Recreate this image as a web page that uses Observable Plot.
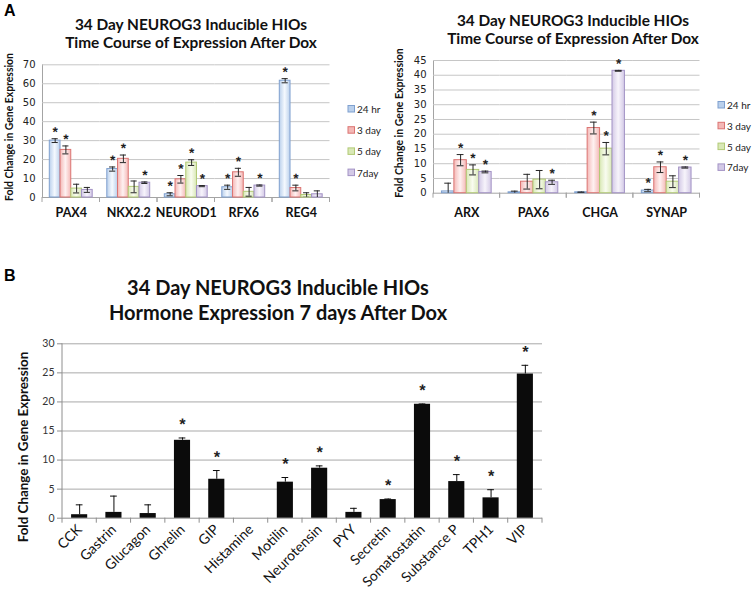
<!DOCTYPE html>
<html>
<head>
<meta charset="utf-8">
<script src="https://cdn.jsdelivr.net/npm/d3@7"></script>
<script src="https://cdn.jsdelivr.net/npm/@observablehq/plot@0.6"></script>
<style>
  html, body { margin: 0; padding: 0; background: #fff; }
  #page { position: relative; width: 752px; height: 593px; overflow: hidden; background: #fff; }
  .panel { position: absolute; }
  #overlay { position: absolute; left: 0; top: 0; pointer-events: none; }
  .stars text { text-rendering: geometricPrecision; }
</style>
</head>
<body>
<div id="page">
  <svg id="defs" width="0" height="0" style="position:absolute;left:0;top:0"></svg>
  <div id="chartA1" class="panel" style="left:0px;top:0px;width:334px"></div>
  <div id="chartA2" class="panel" style="left:380px;top:0px;width:330px"></div>
  <div id="chartB" class="panel" style="left:0px;top:330px;width:560px"></div>
  <svg id="overlay" width="752" height="593"></svg>
</div>
<script>
// ---------------- data ----------------
const timeSeries = ["24 hr", "3 day", "5 day", "7day"];

// Panel A (left)
const leftGenes = ["PAX4", "NKX2.2", "NEUROD1", "RFX6", "REG4"];
const left24hr = [30.0, 15.0, 1.7, 5.4, 61.6];
const left3day = [25.1, 20.4, 9.6, 13.3, 5.0];
const left5day = [4.7, 5.6, 18.4, 3.0, 1.3];
const left7day = [4.0, 7.8, 6.0, 6.3, 1.7];
const leftErr24hr = [1.0, 1.1, 0.8, 1.1, 1.1];
const leftErr3day = [2.1, 2.0, 2.0, 2.1, 1.5];
const leftErr5day = [2.3, 3.1, 1.5, 2.3, 1.2];
const leftErr7day = [1.3, 0.4, 0.3, 0.3, 1.8];
const leftStar24hr = [1, 1, 1, 1, 1];
const leftStar3day = [1, 1, 1, 1, 1];
const leftStar5day = [0, 0, 1, 0, 0];
const leftStar7day = [0, 1, 1, 1, 0];

// Panel A (right)
const rightGenes = ["ARX", "PAX6", "CHGA", "SYNAP"];
const right24hr = [0.6, 0.3, 0.3, 0.9];
const right3day = [11.2, 3.9, 22.1, 8.8];
const right5day = [7.9, 4.6, 15.1, 3.9];
const right7day = [7.2, 3.7, 41.5, 8.7];
const rightErr24hr = [2.8, 0.4, 0.1, 0.4];
const rightErr3day = [1.9, 2.5, 2.0, 1.8];
const rightErr5day = [1.7, 3.1, 2.1, 2.0];
const rightErr7day = [0.3, 0.7, 0.15, 0.2];
const rightStar24hr = [0, 0, 0, 1];
const rightStar3day = [1, 0, 1, 1];
const rightStar5day = [1, 0, 1, 0];
const rightStar7day = [1, 1, 1, 1];

// Panel B
const hormones = ["CCK", "Gastrin", "Glucagon", "Ghrelin", "GIP", "Histamine", "Motilin", "Neurotensin", "PYY", "Secretin", "Somatostatin", "Substance P", "TPH1", "VIP"];
const hormoneValues = [0.6, 1.0, 0.8, 13.4, 6.7, 0, 6.2, 8.6, 1.0, 3.2, 19.6, 6.3, 3.5, 24.8];
const hormoneErrors = [1.7, 2.8, 1.5, 0.4, 1.5, 0, 0.8, 0.4, 0.7, 0.1, 0.05, 1.2, 1.4, 1.5];
const hormoneStars = [0, 0, 0, 1, 1, 0, 1, 1, 0, 1, 1, 1, 1, 1];

// Ticks
const ticksLeft = [0, 10, 20, 30, 40, 50, 60, 70];
const ticksRight = [0, 5, 10, 15, 20, 25, 30, 35, 40, 45];
const ticksB = [0, 5, 10, 15, 20, 25, 30];

// Text
const titleA1 = "34 Day NEUROG3 Inducible HIOs";
const titleA2 = "Time Course of Expression After Dox";
const titleB1 = "34 Day NEUROG3 Inducible HIOs";
const titleB2 = "Hormone Expression 7 days After Dox";
const yTitle = "Fold Change in Gene Expression";

// Styles
const seriesStroke = ["#7fa0cf", "#db7472", "#b2ca76", "#a393c5"];
const seriesEdge = ["#bad0ec", "#f4b8b6", "#d9e8b6", "#d3c9e6"];
const seriesCenter = ["#f5f9fe", "#fef1f1", "#f9fcf0", "#f7f4fb"];

// ---------------- build rows ----------------
function buildRows(genes, vals, errs, stars) {
  const rows = [];
  genes.forEach((g, i) => timeSeries.forEach((s, k) => rows.push({
    gene: g, series: s, k, value: vals[k][i], err: errs[k][i], star: stars[k][i] === 1
  })));
  return rows;
}
const rowsLeft = buildRows(leftGenes,
  [left24hr, left3day, left5day, left7day],
  [leftErr24hr, leftErr3day, leftErr5day, leftErr7day],
  [leftStar24hr, leftStar3day, leftStar5day, leftStar7day]);
const rowsRight = buildRows(rightGenes,
  [right24hr, right3day, right5day, right7day],
  [rightErr24hr, rightErr3day, rightErr5day, rightErr7day],
  [rightStar24hr, rightStar3day, rightStar5day, rightStar7day]);
const rowsB = hormones.map((name, i) => ({name, value: hormoneValues[i], err: hormoneErrors[i], star: hormoneStars[i] === 1}));

// ---------------- gradients ----------------
const defs = d3.select("#defs").append("defs");
seriesEdge.forEach((c, k) => {
  const g = defs.append("linearGradient").attr("id", `grad${k}`)
    .attr("x1", "0").attr("x2", "1").attr("y1", "0").attr("y2", "0");
  g.append("stop").attr("offset", "0").attr("stop-color", c);
  g.append("stop").attr("offset", "0.5").attr("stop-color", seriesCenter[k]);
  g.append("stop").attr("offset", "1").attr("stop-color", c);
});

// ---------------- helper marks ----------------
const facetEdgeTicks = (len, color) => (index, scales, values, dims) => {
  const y0 = dims.height - dims.marginBottom;
  const g = d3.create("svg:g").attr("stroke", color).attr("stroke-width", 1);
  [dims.marginLeft, dims.width - dims.marginRight].forEach(x =>
    g.append("line").attr("x1", x).attr("x2", x).attr("y1", y0).attr("y2", y0 + len));
  return g.node();
};
const bandEdgeTicks = (len, color) => (index, scales, values, dims) => {
  const x = scales.x;
  const y0 = dims.height - dims.marginBottom;
  const gap = x.step() - x.bandwidth();
  const edges = x.domain().map(v => x(v) - gap / 2);
  edges.push(edges[edges.length - 1] + x.step());
  const g = d3.create("svg:g").attr("stroke", color).attr("stroke-width", 1);
  edges.forEach(e => g.append("line").attr("x1", e).attr("x2", e).attr("y1", y0).attr("y2", y0 + len));
  return g.node();
};
const leftAxisLine = (color) => (index, scales, values, dims) => {
  const g = d3.create("svg:line").attr("stroke", color)
    .attr("x1", dims.marginLeft).attr("x2", dims.marginLeft)
    .attr("y1", dims.marginTop).attr("y2", dims.height - dims.marginBottom);
  return g.node();
};

// asterisks: slightly rotated so they are rendered with grayscale antialiasing
const starStyle = {fontFamily: "Liberation Sans", fontWeight: "bold", fill: "#1e1e1e", rotate: 0.4, className: "stars"};

// ---------------- panel A ----------------
function drawA(el, genes, rows, cfg) {
  const fx = "gene", x = "series";
  const errColor = "#272727";
  const core = [
    Plot.ruleY(cfg.ticks.filter(t => t > 0), {stroke: "#c6c6c6"}),
    facetEdgeTicks(5, "#a4a4a4"),
    Plot.ruleY([0], {stroke: "#a4a4a4"}),
    Plot.barY(rows, {fx, x, y: "value", fill: d => `url(#grad${d.k})`, stroke: d => seriesStroke[d.k], strokeWidth: 1}),
    Plot.ruleX(rows, {fx, x, y1: d => d.value - d.err, y2: d => d.value + d.err, stroke: errColor, clip: true}),
    Plot.tickY(rows, {fx, x, y: d => d.value + d.err, stroke: errColor, insetLeft: cfg.capInset, insetRight: cfg.capInset}),
    Plot.tickY(rows, {fx, x, y: d => d.value - d.err, stroke: errColor, insetLeft: cfg.capInset, insetRight: cfg.capInset, clip: true}),
    Plot.text(rows.filter(d => d.star), {fx, x, y: d => d.value + d.err, text: () => "*", dy: -6.5, fontSize: 13.5, ...starStyle}),
    Plot.axisY(cfg.ticks, {tickSize: 0, tickPadding: 7, fontSize: 10, fontFamily: "DejaVu Sans", fill: "#222", label: null}),
    Plot.axisFx({anchor: "bottom", tickSize: 0, tickPadding: cfg.labelPad, fontSize: 12.5, fontWeight: "bold", fontFamily: "Lato", fill: "#111", label: null})
  ];
  const options = (extra) => ({
    width: cfg.width, height: cfg.height,
    marginLeft: cfg.ml, marginRight: cfg.mr, marginTop: cfg.mt, marginBottom: cfg.mb,
    fx: {domain: genes, padding: 0, round: false},
    x: {domain: timeSeries, paddingInner: 0, paddingOuter: 0.68, round: false, axis: null},
    y: {domain: [0, cfg.ticks[cfg.ticks.length - 1]]},
    color: {type: "identity"},
    style: {background: "transparent", overflow: "visible", fontFamily: "Lato"},
    marks: extra.concat(core)
  });
  let chart;
  try {
    chart = Plot.plot(options([Plot.frame({anchor: "left", facet: "super", stroke: "#a4a4a4"})]));
  } catch (e) {
    chart = Plot.plot(options([]));
  }
  el.appendChild(chart);
}

drawA(document.getElementById("chartA1"), leftGenes, rowsLeft,
  {ticks: ticksLeft, width: 334, height: 225, ml: 42, mr: 4.5, mt: 64.3, mb: 28, capInset: 2.3, labelPad: 10.5});
drawA(document.getElementById("chartA2"), rightGenes, rowsRight,
  {ticks: ticksRight, width: 330, height: 225, ml: 53, mr: 10.5, mt: 60, mb: 32.3, capInset: 2.8, labelPad: 14.5});

// ---------------- panel B ----------------
{
  const black = "#0b0b0b";
  const withBar = rowsB.filter(d => d.value > 0);
  const chart = Plot.plot({
    width: 560, height: 263,
    marginLeft: 62, marginRight: 18, marginTop: 13.3, marginBottom: 75.3,
    x: {domain: hormones, paddingInner: 0.53, paddingOuter: 0.265, round: false},
    y: {domain: [0, 30]},
    style: {background: "transparent", overflow: "visible", fontFamily: "Lato"},
    marks: [
      Plot.ruleY(ticksB.filter(t => t > 0), {stroke: "#a9a9a9"}),
      bandEdgeTicks(5, "#8e8e8e"),
      leftAxisLine("#8e8e8e"),
      Plot.ruleY([0], {stroke: "#8e8e8e"}),
      Plot.barY(rowsB, {x: "name", y: "value", fill: black}),
      Plot.ruleX(withBar, {x: "name", y1: "value", y2: d => d.value + d.err, stroke: black}),
      Plot.tickY(withBar, {x: "name", y: d => d.value + d.err, stroke: black, insetLeft: 4.7, insetRight: 4.7}),
      Plot.text(rowsB.filter(d => d.star), {x: "name", y: d => d.value + d.err, text: () => "*", dy: -13.5, fontSize: 16, ...starStyle}),
      Plot.axisY(ticksB, {tickSize: 5, tickPadding: 3, fontSize: 10.5, fontFamily: "Lato", stroke: "#8e8e8e", fill: "#333", label: null}),
      Plot.axisX({tickRotate: -45, tickSize: 0, tickPadding: 9, fontSize: 14, fontFamily: "Lato", fill: "#111", label: null})
    ]
  });
  document.getElementById("chartB").appendChild(chart);
}

// ---------------- overlay: titles, axis titles, legends ----------------
const ov = d3.select("#overlay");
function txt(x, y, s, o = {}) {
  const t = ov.append("text").attr("x", x).attr("y", y).text(s)
    .attr("font-family", o.family || "Lato")
    .attr("font-size", o.size || 12)
    .attr("font-weight", o.weight || "normal")
    .attr("fill", o.fill || "#111")
    .attr("text-anchor", o.anchor || "start");
  if (o.rotate) t.attr("transform", `rotate(${o.rotate},${x},${y})`);
  if (o.baseline) t.attr("dominant-baseline", o.baseline);
  return t;
}
// panel letters
txt(4, 16, "A", {family: "Liberation Sans", size: 16, weight: "bold", fill: "#000"});
txt(4, 281, "B", {family: "Liberation Sans", size: 16, weight: "bold", fill: "#000"});
// titles
txt(191, 30, titleA1, {size: 15.4, weight: "bold", anchor: "middle"});
txt(191, 48, titleA2, {size: 15.4, weight: "bold", anchor: "middle"});
txt(573, 26, titleA1, {size: 15.4, weight: "bold", anchor: "middle"});
txt(573, 43.5, titleA2, {size: 15.4, weight: "bold", anchor: "middle"});
txt(278, 294.5, titleB1, {size: 20, weight: "bold", anchor: "middle"});
txt(278, 319.5, titleB2, {size: 20, weight: "bold", anchor: "middle"});
// y axis titles
txt(12.5, 127, yTitle, {size: 10.4, weight: "bold", anchor: "middle", rotate: -90});
txt(403, 123, yTitle, {size: 10.5, weight: "bold", anchor: "middle", rotate: -90});
txt(28, 447, yTitle, {size: 13.4, weight: "bold", anchor: "middle", rotate: -90});
// legends
function legend(x0, y0, dy) {
  timeSeries.forEach((s, k) => {
    const y = y0 + k * dy;
    ov.append("rect").attr("x", x0 + 0.5).attr("y", y - 3.5).attr("width", 6.5).attr("height", 6.5)
      .attr("fill", seriesEdge[k]).attr("stroke", seriesStroke[k]).attr("stroke-width", 1);
    txt(x0 + 9.5, y, s, {size: 10, fill: "#222", baseline: "central"});
  });
}
legend(347.5, 109, 21.2);
legend(717.5, 105, 20.8);
</script>
</body>
</html>
